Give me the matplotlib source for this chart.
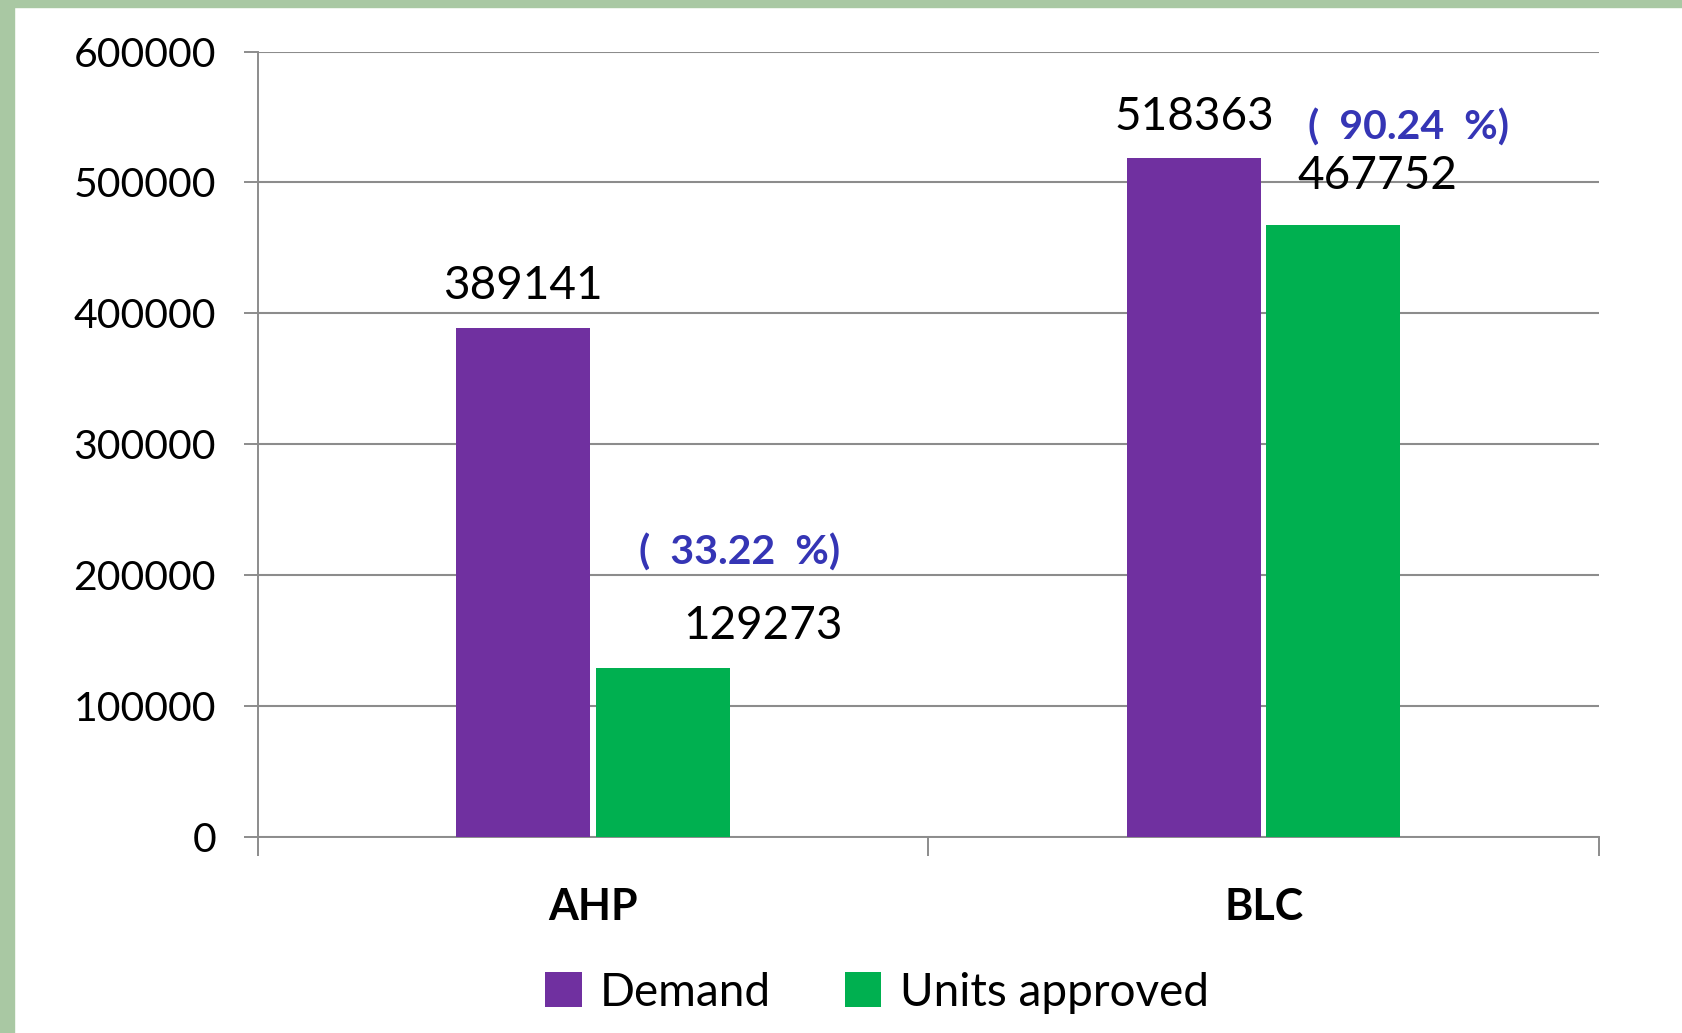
import matplotlib.pyplot as plt
from matplotlib.patches import Rectangle

# Demand vs units approved (AHP / BLC)
categories = ["AHP", "BLC"]
demand = [389141, 518363]
approved = [129273, 467752]
series_names = ["Demand", "Units approved"]

purple = '#7030A0'
green = '#00B050'
grid_col = '#8C8C8C'

plt.rcParams['font.family'] = ['Lato', 'DejaVu Sans']

fig = plt.figure(figsize=(16.83, 10.33), dpi=100)
#green frame strips on left and top
fig.patches.append(Rectangle((0, 0), 14 / 1683, 1, transform=fig.transFigure,
                             color='#A9C8A3', zorder=0))
fig.patches.append(Rectangle((0, 1 - 7 / 1033), 1, 7 / 1033, transform=fig.transFigure,
                             color='#A9C8A3', zorder=0))

ax = fig.add_axes([0.1531, 0.1897, 0.797, 0.7604])
x = list(range(len(categories)))
w = 0.2
gap = 0.004
b1 = ax.bar([i - w / 2 - gap for i in x], demand, width=w, color=purple,
            label=series_names[0], zorder=3)
b2 = ax.bar([i + w / 2 + gap for i in x], approved, width=w, color=green,
            label=series_names[1], zorder=3)

ax.set_xlim(-0.5, 1.5)
ax.set_ylim(0, 600000)
ax.set_yticks(range(0, 600001, 100000))
ax.set_yticklabels([str(v) for v in range(0, 600001, 100000)], fontsize=29.5)
ax.set_xticks(x)
ax.set_xticklabels(categories, fontsize=31, fontweight='bold')
ax.set_xticks([-0.5, 0.5, 1.5], minor=True)
ax.tick_params(axis='x', which='major', length=0, pad=36)
ax.tick_params(axis='x', which='minor', length=14, width=1.4, color=grid_col)
ax.tick_params(axis='y', length=10, width=1.4, color=grid_col, pad=20)
ax.grid(axis='y', color=grid_col, linewidth=1.5, zorder=0)
for s in ['top', 'right']:
    ax.spines[s].set_visible(False)
ax.spines['left'].set_color(grid_col)
ax.spines['left'].set_linewidth(1.4)
ax.spines['bottom'].set_color(grid_col)
ax.spines['bottom'].set_linewidth(1.4)

#value labels
for r, v in zip(b1, demand):
    ax.annotate(str(v), (r.get_x() + r.get_width() / 2, v), xytext=(0, 30),
                textcoords='offset points', ha='center', va='center', fontsize=33)
offs = [(72, 30, 55, 83), (32, 35, 54, 70)]
for r, v, d, o in zip(b2, approved, demand, offs):
    cx = r.get_x() + r.get_width() / 2
    ax.annotate(str(v), (cx, v), xytext=(o[0], o[1]),
                textcoords='offset points', ha='center', va='center', fontsize=33)
    pct = v / d * 100
    ax.annotate(f"(  {pct:.2f}  %)", (cx, v), xytext=(o[2], o[3]),
                textcoords='offset points', ha='center', va='center', fontsize=29.5,
                fontweight='bold', color='#3535B5')

fig.legend(handles=[b1, b2], labels=series_names, loc='center',
           bbox_to_anchor=(0.521, 0.039), ncol=2, frameon=False, fontsize=33,
           handlelength=0.8, handleheight=0.8, handletextpad=0.4, columnspacing=1.6)

fig.savefig('out.png', dpi=100)
